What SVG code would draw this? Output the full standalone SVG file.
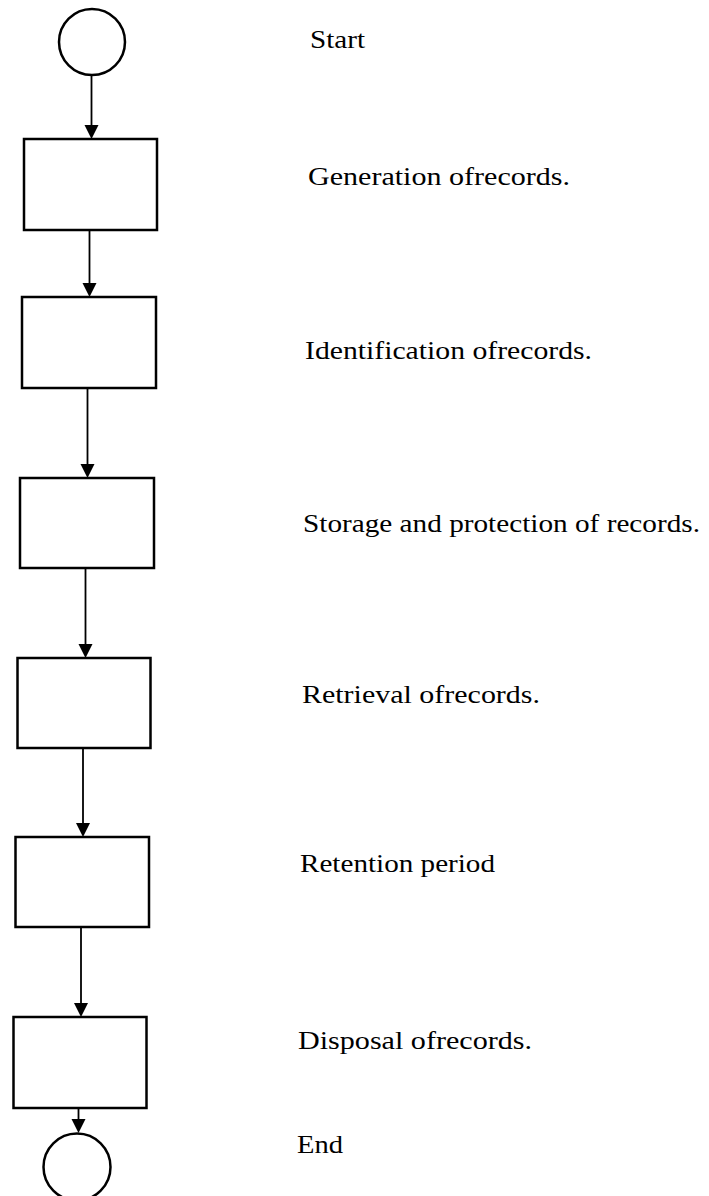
<svg xmlns="http://www.w3.org/2000/svg" width="709" height="1196" viewBox="0 0 709 1196">
<style>
.n{fill:#fff;stroke:#000;stroke-width:2.5}
.c line{stroke:#000;stroke-width:1.8}
.c polygon{fill:#000}
.t{font-family:"Liberation Serif","Times New Roman",serif;font-size:26px;fill:#000}
</style>
<rect width="709" height="1196" fill="#fff"/>
<g id="connectors" class="c">
<line x1="91.5" y1="75" x2="91.5" y2="128"/><polygon points="84.5,125 98.5,125 91.5,139"/>
<line x1="89.5" y1="230" x2="89.5" y2="286"/><polygon points="82.5,283 96.5,283 89.5,297"/>
<line x1="87.5" y1="388" x2="87.5" y2="467"/><polygon points="80.5,464 94.5,464 87.5,478"/>
<line x1="85.5" y1="568" x2="85.5" y2="647"/><polygon points="78.5,644 92.5,644 85.5,658"/>
<line x1="83" y1="748" x2="83" y2="826"/><polygon points="76,823 90,823 83,837"/>
<line x1="81" y1="927" x2="81" y2="1006"/><polygon points="74,1003 88,1003 81,1017"/>
<line x1="78.5" y1="1108" x2="78.5" y2="1122"/><polygon points="71.5,1119 85.5,1119 78.5,1133"/>
</g>
<g id="start"><circle class="n" cx="92" cy="42" r="33"/><text class="t" x="310" y="48" textLength="55" lengthAdjust="spacingAndGlyphs">Start</text></g>
<g id="generation"><rect class="n" x="24" y="139" width="133" height="91"/><text class="t" x="308" y="185" textLength="262" lengthAdjust="spacingAndGlyphs">Generation ofrecords.</text></g>
<g id="identification"><rect class="n" x="22" y="297" width="134" height="91"/><text class="t" x="305" y="359" textLength="287" lengthAdjust="spacingAndGlyphs">Identification ofrecords.</text></g>
<g id="storage"><rect class="n" x="20" y="478" width="134" height="90"/><text class="t" x="303" y="532" textLength="397" lengthAdjust="spacingAndGlyphs">Storage and protection of records.</text></g>
<g id="retrieval"><rect class="n" x="17.5" y="658" width="133" height="90"/><text class="t" x="302" y="703" textLength="238" lengthAdjust="spacingAndGlyphs">Retrieval ofrecords.</text></g>
<g id="retention"><rect class="n" x="15.5" y="837" width="133.5" height="90"/><text class="t" x="300" y="872" textLength="195" lengthAdjust="spacingAndGlyphs">Retention period</text></g>
<g id="disposal"><rect class="n" x="13.5" y="1017" width="133" height="91"/><text class="t" x="298" y="1049" textLength="234" lengthAdjust="spacingAndGlyphs">Disposal ofrecords.</text></g>
<g id="end"><circle class="n" cx="77" cy="1167" r="33.5"/><text class="t" x="297" y="1153" textLength="46" lengthAdjust="spacingAndGlyphs">End</text></g>
</svg>
